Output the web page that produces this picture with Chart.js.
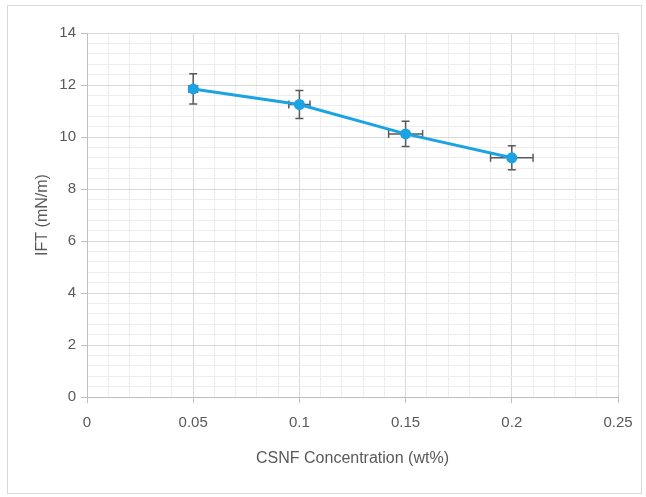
<!DOCTYPE html>
<html>
<head>
<meta charset="utf-8">
<script src="https://cdn.jsdelivr.net/npm/chart.js@4/dist/chart.umd.min.js"></script>
<style>
    body { margin: 0; background: #fff; }
    #wrap { position: relative; width: 646px; height: 497px; }
    #frame { position: absolute; left: 7px; top: 5px; width: 635px; height: 489px; border: 1px solid #d9d9d9; box-sizing: border-box; pointer-events: none; }
</style>
</head>
<body>
<div id="wrap">
    <canvas id="iftChart" width="646" height="497"></canvas>
    <div id="frame"></div>
</div>
<script>
const konsentrasi = [0.05, 0.1, 0.15, 0.2];
const nilaiIFT = [11.85, 11.25, 10.12, 9.2];
const errorIFT = [0.58, 0.54, 0.49, 0.46];
const errorKonsentrasi = [0.002, 0.005, 0.008, 0.01];
const labelX = ['0', '0.05', '0.1', '0.15', '0.2', '0.25'];
const labelY = ['0', '2', '4', '6', '8', '10', '12', '14'];

const fontDasar = "'Liberation Sans Narrow', 'Liberation Sans', sans-serif";
const warnaTeks = '#595959';

// error bar digambar pakai skala chart
const errorBarPlugin = {
    id: 'errorBars',
    beforeDatasetsDraw(chart) {
        const { ctx, scales: { x, y } } = chart;
        const cap = 4;
        ctx.save();
        ctx.strokeStyle = '#595959';
        ctx.lineWidth = 1.5;
        konsentrasi.forEach((k, i) => {
            const px = x.getPixelForValue(k);
            const py = y.getPixelForValue(nilaiIFT[i]);
            const yAtas = y.getPixelForValue(nilaiIFT[i] + errorIFT[i]);
            const yBawah = y.getPixelForValue(nilaiIFT[i] - errorIFT[i]);
            const xKiri = x.getPixelForValue(k - errorKonsentrasi[i]);
            const xKanan = x.getPixelForValue(k + errorKonsentrasi[i]);
            ctx.beginPath();
            ctx.moveTo(px, yAtas); ctx.lineTo(px, yBawah);
            ctx.moveTo(px - cap, yAtas); ctx.lineTo(px + cap, yAtas);
            ctx.moveTo(px - cap, yBawah); ctx.lineTo(px + cap, yBawah);
            ctx.moveTo(xKiri, py); ctx.lineTo(xKanan, py);
            ctx.moveTo(xKiri, py - cap); ctx.lineTo(xKiri, py + cap);
            ctx.moveTo(xKanan, py - cap); ctx.lineTo(xKanan, py + cap);
            ctx.stroke();
        });
        ctx.restore();
    }
};

new Chart(document.getElementById('iftChart'), {
    type: 'scatter',
    data: {
        datasets: [{
            data: konsentrasi.map((k, i) => ({ x: k, y: nilaiIFT[i] })),
            showLine: true,
            borderColor: '#1ba3e3',
            backgroundColor: '#1ba3e3',
            borderWidth: 3,
            pointRadius: 5.5,
            pointBorderWidth: 0
        }]
    },
    options: {
        responsive: false,
        animation: false,
        layout: { padding: { left: 0, top: 33, right: 28, bottom: 0 } },
        plugins: { legend: { display: false }, tooltip: { enabled: false } },
        scales: {
            x: {
                type: 'linear',
                min: 0,
                max: 0.25,
                afterFit(scale) { scale.height = 100; },
                ticks: {
                    stepSize: 0.01,
                    autoSkip: false,
                    maxRotation: 0,
                    maxTicksLimit: 100,
                    padding: 11,
                    color: warnaTeks,
                    font: { family: fontDasar, size: 15 },
                    callback(value, index) {
                        return index % 5 === 0 ? labelX[index / 5] : '';
                    }
                },
                grid: {
                    color: (c) => c.index % 5 === 0 ? '#d9d9d9' : '#ededed',
                    tickColor: (c) => c.index % 5 === 0 ? '#bfbfbf' : 'rgba(0,0,0,0)',
                    tickLength: 6,
                    lineWidth: 1
                },
                border: { color: '#bfbfbf' },
                title: {
                    display: true,
                    text: 'CSNF Concentration (wt%)',
                    color: warnaTeks,
                    font: { family: fontDasar, size: 16 },
                    padding: { top: 0, bottom: 29 }
                }
            },
            y: {
                min: 0,
                max: 14,
                afterFit(scale) { scale.width = 87; },
                ticks: {
                    stepSize: 0.4,
                    autoSkip: false,
                    maxTicksLimit: 100,
                    padding: 5,
                    color: warnaTeks,
                    font: { family: fontDasar, size: 15 },
                    callback(value, index) {
                        return index % 5 === 0 ? labelY[index / 5] : '';
                    }
                },
                grid: {
                    color: (c) => c.index % 5 === 0 ? '#d9d9d9' : '#ededed',
                    tickColor: (c) => c.index % 5 === 0 ? '#bfbfbf' : 'rgba(0,0,0,0)',
                    tickLength: 6,
                    lineWidth: 1
                },
                border: { color: '#bfbfbf' },
                title: {
                    display: true,
                    text: 'IFT (mN/m)',
                    color: warnaTeks,
                    font: { family: fontDasar, size: 16 },
                    padding: { top: 33, bottom: 0 }
                }
            }
        }
    },
    plugins: [errorBarPlugin]
});
</script>
</body>
</html>
